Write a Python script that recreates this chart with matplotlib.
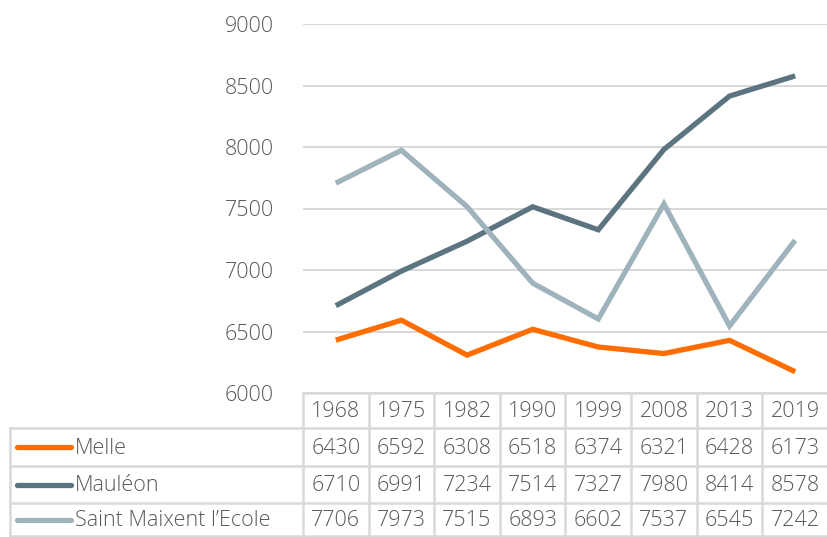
import matplotlib.pyplot as plt

years = ['1968', '1975', '1982', '1990', '1999', '2008', '2013', '2019']
melle = [6430, 6592, 6308, 6518, 6374, 6321, 6428, 6173]
mauleon = [6710, 6991, 7234, 7514, 7327, 7980, 8414, 8578]
saint_maixent = [7706, 7973, 7515, 6893, 6602, 7537, 6545, 7242]
names = ['Melle', 'Mauléon', 'Saint Maixent l’Ecole']
colors = ['#ff6d00', '#5c7480', '#9fb3bc']
yticks = [6000, 6500, 7000, 7500, 8000, 8500, 9000]

plt.rcParams['font.family'] = ['Open Sans', 'DejaVu Sans']
plt.rcParams['font.weight'] = 'light'
text_color = '#595959'
grid_color = '#d9d9d9'

W, H = 828, 537
fig = plt.figure(figsize=(W / 100, H / 100), dpi=100)

# plot area in pixels
left, right, top, bottom = 303, 828, 24, 393
ax = fig.add_axes([left / W, 1 - bottom / H, (right - left) / W, (bottom - top) / H])
series = [melle, mauleon, saint_maixent]
x = list(range(len(years)))
for vals, c in zip(series, colors):
    ax.plot(x, vals, color=c, lw=3.8, solid_capstyle='butt', solid_joinstyle='miter', zorder=3)
ax.set_xlim(-0.5, len(years) - 0.5)
ax.set_ylim(6000, 9000)
ax.set_yticks(yticks)
ax.set_yticklabels([str(t) for t in yticks], fontsize=15.5, color=text_color)
ax.tick_params(axis='y', length=0, pad=21)
ax.set_xticks([])
ax.grid(axis='y', color=grid_color, lw=1.5)
for s in ax.spines.values():
    s.set_visible(False)

# table overlay in pixel coordinates
tab = fig.add_axes([0, 0, 1, 1], zorder=-1)
tab.set_xlim(0, W)
tab.set_ylim(H, 0)
tab.axis('off')
colw = (right - left) / len(years)
rows_y = [393, 428, 466, 503, 537]
lw = 1.8
# horizontal lines
tab.plot([left, right], [rows_y[0], rows_y[0]], color=grid_color, lw=lw)
for yy in rows_y[1:-1]:
    tab.plot([10, right], [yy, yy], color=grid_color, lw=lw)
tab.plot([10, right], [536, 536], color=grid_color, lw=lw)
# vertical lines
for k in range(len(years) + 1):
    tab.plot([left + k * colw] * 2, [rows_y[0], 537], color=grid_color, lw=lw)
tab.plot([10, 10], [rows_y[1], 537], color=grid_color, lw=lw)

fs = 15.5
for i, yr in enumerate(years):
    cx = left + (i + 0.5) * colw
    tab.text(cx, (rows_y[0] + rows_y[1]) / 2 + 1, yr, ha='center', va='center',
             fontsize=fs, color=text_color)
for r, (name, vals, c) in enumerate(zip(names, series, colors)):
    cy = (rows_y[r + 1] + rows_y[r + 2]) / 2 + 1
    tab.plot([17, 71], [cy - 1, cy - 1], color=c, lw=3.8, solid_capstyle='round')
    tab.text(75, cy, name, ha='left', va='center', fontsize=fs, color=text_color)
    for i, v in enumerate(vals):
        tab.text(left + (i + 0.5) * colw, cy, str(v), ha='center', va='center',
                 fontsize=fs, color=text_color)

fig.savefig('out.png', dpi=100)
